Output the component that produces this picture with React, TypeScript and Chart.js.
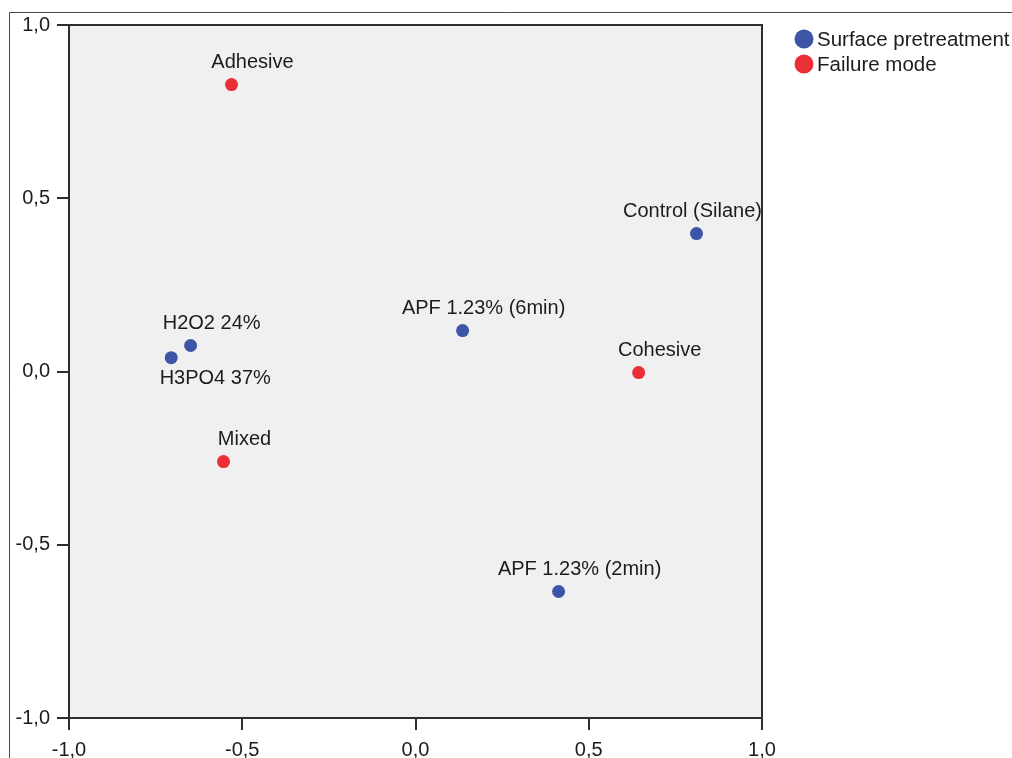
import React, { useEffect, useRef } from "react";
import { Chart, registerables } from "chart.js";

Chart.register(...registerables);

const surfaceName = "Surface pretreatment";
const surfaceLabels = ["Control (Silane)", "APF 1.23% (6min)", "H2O2 24%", "H3PO4 37%", "APF 1.23% (2min)"];
const surfaceX = [0.811, 0.136, -0.649, -0.705, 0.413];
const surfaceY = [0.398, 0.118, 0.075, 0.04, -0.635];

const failureName = "Failure mode";
const failureLabels = ["Adhesive", "Cohesive", "Mixed"];
const failureX = [-0.531, 0.644, -0.554];
const failureY = [0.828, -0.003, -0.26];

// label placement relative to point: "above" or "below"
const surfacePlacement = ["above", "above", "above", "below", "above"];
const failurePlacement = ["above", "above", "above"];

const axisTicks = [-1, -0.5, 0, 0.5, 1];

const BLUE = "#3d55a7";
const RED = "#ea2f39";
const FONT = '"Liberation Sans", Arial, sans-serif';
const TEXT = "#1c1c1c";
const AXIS = "#2e2e2e";

const fmt = (v: number) => v.toFixed(1).replace(".", ",");

export default function App() {
  const ref = useRef<HTMLCanvasElement | null>(null);

  useEffect(() => {
    if (!ref.current) return;

    const bgPlugin = {
      id: "bgPlugin",
      beforeDraw(chart: any) {
        const { ctx, chartArea: a, width, height } = chart;
        ctx.save();
        ctx.fillStyle = "#ffffff";
        ctx.fillRect(0, 0, width, height);
        ctx.fillStyle = "#f0f0f0";
        ctx.fillRect(a.left, a.top, a.right - a.left, a.bottom - a.top);
        ctx.restore();
      },
      afterDraw(chart: any) {
        const { ctx, chartArea: a, width, height } = chart;
        ctx.save();
        // plot frame top & right
        ctx.strokeStyle = AXIS;
        ctx.lineWidth = 2;
        ctx.beginPath();
        ctx.moveTo(a.left, a.top);
        ctx.lineTo(a.right, a.top);
        ctx.lineTo(a.right, a.bottom);
        ctx.stroke();
        // outer frame
        ctx.strokeStyle = "#4a4a4a";
        ctx.lineWidth = 1;
        ctx.beginPath();
        ctx.moveTo(9.5, height);
        ctx.lineTo(9.5, 12.5);
        ctx.lineTo(width, 12.5);
        ctx.stroke();
        // legend
        const items = chart.data.datasets.map((d: any) => ({ label: d.label, color: d.backgroundColor }));
        ctx.font = `20.5px ${FONT}`;
        ctx.textBaseline = "middle";
        ctx.textAlign = "left";
        items.forEach((it: any, i: number) => {
          const cy = 39 + i * 25;
          ctx.fillStyle = it.color;
          ctx.beginPath();
          ctx.arc(a.right + 42, cy, 9.5, 0, Math.PI * 2);
          ctx.fill();
          ctx.fillStyle = TEXT;
          ctx.fillText(it.label, a.right + 55, cy + 1);
        });
        ctx.restore();
      },
      afterDatasetsDraw(chart: any) {
        const { ctx, chartArea: a } = chart;
        ctx.save();
        ctx.font = `20px ${FONT}`;
        ctx.fillStyle = TEXT;
        ctx.textAlign = "center";
        ctx.textBaseline = "middle";
        chart.data.datasets.forEach((ds: any, di: number) => {
          const meta = chart.getDatasetMeta(di);
          meta.data.forEach((el: any, i: number) => {
            const text = ds.pointLabels[i];
            const place = ds.placement[i];
            const w = ctx.measureText(text).width;
            let cx = place === "below" ? el.x + 44 : el.x + 21;
            if (cx + w / 2 > a.right) cx = a.right - w / 2;
            const cy = place === "below" ? el.y + 21 : el.y - 22;
            ctx.fillText(text, cx, cy);
          });
        });
        ctx.restore();
      },
    };

    const chart = new Chart(ref.current, {
      type: "scatter",
      data: {
        datasets: [
          {
            label: surfaceName,
            data: surfaceX.map((x, i) => ({ x, y: surfaceY[i] })),
            backgroundColor: BLUE,
            borderColor: BLUE,
            pointRadius: 6.5,
            borderWidth: 0,
            pointLabels: surfaceLabels,
            placement: surfacePlacement,
          } as any,
          {
            label: failureName,
            data: failureX.map((x, i) => ({ x, y: failureY[i] })),
            backgroundColor: RED,
            borderColor: RED,
            pointRadius: 6.5,
            borderWidth: 0,
            pointLabels: failureLabels,
            placement: failurePlacement,
          } as any,
        ],
      },
      options: {
        responsive: false,
        animation: false,
        layout: { padding: { left: 0, top: 25, right: 250, bottom: 0 } },
        plugins: { legend: { display: false }, tooltip: { enabled: false } },
        scales: {
          x: {
            type: "linear",
            min: -1,
            max: 1,
            afterFit: (s: any) => {
              s.height = 40;
            },
            afterBuildTicks: (s: any) => {
              s.ticks = axisTicks.map((v) => ({ value: v }));
            },
            ticks: {
              callback: (v: any) => fmt(Number(v)),
              font: { family: FONT, size: 20 },
              color: TEXT,
              padding: 8,
              maxRotation: 0,
            },
            grid: { drawOnChartArea: false, drawTicks: true, tickLength: 12, color: AXIS, lineWidth: 2 },
            border: { display: true, color: AXIS, width: 2 },
          },
          y: {
            type: "linear",
            min: -1,
            max: 1,
            afterFit: (s: any) => {
              s.width = 69;
            },
            afterBuildTicks: (s: any) => {
              s.ticks = axisTicks.map((v) => ({ value: v }));
            },
            ticks: {
              callback: (v: any) => fmt(Number(v)),
              font: { family: FONT, size: 20 },
              color: TEXT,
              padding: 7,
            },
            grid: { drawOnChartArea: false, drawTicks: true, tickLength: 12, color: AXIS, lineWidth: 2 },
            border: { display: true, color: AXIS, width: 2 },
          },
        },
      } as any,
      plugins: [bgPlugin],
    });

    return () => chart.destroy();
  }, []);

  return (
    <div style={{ position: "fixed", left: 0, top: 0, width: 1012, height: 758, background: "#fff" }}>
      <canvas ref={ref} width={1012} height={758} style={{ display: "block", width: 1012, height: 758 }} />
    </div>
  );
}
